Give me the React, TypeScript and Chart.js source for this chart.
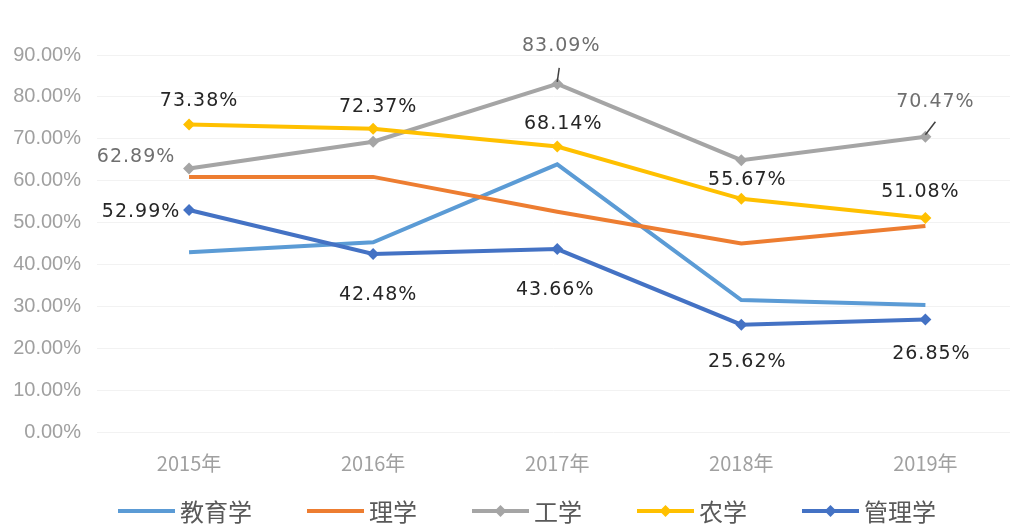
import React, { useEffect, useRef } from "react";
import { Chart, registerables } from "chart.js";

Chart.register(...registerables);

// ---------- data ----------
const categories = ["2015年", "2016年", "2017年", "2018年", "2019年"];
const seriesNames = ["教育学", "理学", "工学", "农学", "管理学"];
const education = [42.9, 45.3, 63.9, 31.5, 30.3];
const science = [60.9, 60.9, 52.6, 45.0, 49.2];
const engineering = [62.89, 69.3, 83.09, 64.9, 70.47];
const agriculture = [73.38, 72.37, 68.14, 55.67, 51.08];
const management = [52.99, 42.48, 43.66, 25.62, 26.85];
const yTickValues = [0, 10, 20, 30, 40, 50, 60, 70, 80, 90];

// which points get a value label (by series)
const labelledPoints: Record<string, number[]> = {
  工学: [0, 2, 4],
  农学: [0, 1, 2, 3, 4],
  管理学: [0, 1, 2, 3, 4],
};

// ---------- styles ----------
const seriesColors = ["#5B9BD5", "#ED7D31", "#A5A5A5", "#FFC000", "#4472C4"];
const seriesMarkers = [false, false, true, true, true];
const labelColors: Record<string, string> = {
  工学: "#6f6f6f",
  农学: "#262626",
  管理学: "#262626",
};
// label centre offsets from the point [dx, dy]
const labelOffsets: Record<string, [number, number][]> = {
  工学: [[-53, -11], [0, 0], [4, -38], [0, 0], [10, -35]],
  农学: [[10, -24], [5, -22], [6, -23], [6, -19], [-5, -26]],
  管理学: [[-48, 2], [5, 41], [-2, 41], [6, 37], [6, 35]],
};
// leader lines [series, index, dx, dy] from point to (dx,dy)
const leaders: [string, number, number, number][] = [
  ["工学", 2, 2, -16],
  ["工学", 4, 10, -15],
];

const W = 1016;
const H = 524;
const PLOT_LEFT = 97;
const PLOT_TOP = 55;
const PLOT_BOTTOM = 432;
const CAT_STEP = 185.3;

const valueLabelPlugin = {
  id: "valueLabels",
  afterDatasetsDraw(chart: any) {
    const ctx = chart.ctx as CanvasRenderingContext2D;
    const xs = chart.scales.x;
    const ys = chart.scales.y;
    ctx.save();
    ctx.strokeStyle = "#404040";
    ctx.lineWidth = 1.5;
    leaders.forEach(([name, i, dx, dy]) => {
      const di = seriesNames.indexOf(name);
      const v = (chart.data.datasets[di].data[i] as any).y;
      const px = xs.getPixelForValue(i);
      const py = ys.getPixelForValue(v);
      ctx.beginPath();
      ctx.moveTo(px, py - 2);
      ctx.lineTo(px + dx, py + dy);
      ctx.stroke();
    });
    ctx.font = '19px "DejaVu Sans"';
    (ctx as any).letterSpacing = "1px";
    ctx.textAlign = "center";
    ctx.textBaseline = "middle";
    Object.keys(labelledPoints).forEach((name) => {
      const di = seriesNames.indexOf(name);
      ctx.fillStyle = labelColors[name];
      labelledPoints[name].forEach((i) => {
        const v = (chart.data.datasets[di].data[i] as any).y;
        const px = xs.getPixelForValue(i);
        const py = ys.getPixelForValue(v);
        const [dx, dy] = labelOffsets[name][i];
        ctx.fillText(v.toFixed(2) + "%", px + dx, py + dy);
      });
    });
    ctx.restore();
  },
};

const legendPlugin = {
  id: "customLegend",
  afterDraw(chart: any) {
    const ctx = chart.ctx as CanvasRenderingContext2D;
    ctx.save();
    ctx.font = '24px "Noto Sans CJK SC"';
    ctx.textBaseline = "middle";
    ctx.textAlign = "left";
    const lineLen = 57;
    const gap = 5;
    const itemGap = 55;
    let x = 118;
    const y = 511;
    seriesNames.forEach((n, i) => {
      ctx.strokeStyle = seriesColors[i];
      ctx.lineWidth = 4;
      ctx.beginPath();
      ctx.moveTo(x, y);
      ctx.lineTo(x + lineLen, y);
      ctx.stroke();
      if (seriesMarkers[i]) {
        ctx.fillStyle = seriesColors[i];
        const cx = x + lineLen / 2;
        ctx.beginPath();
        ctx.moveTo(cx, y - 6);
        ctx.lineTo(cx + 6, y);
        ctx.lineTo(cx, y + 6);
        ctx.lineTo(cx - 6, y);
        ctx.closePath();
        ctx.fill();
      }
      ctx.fillStyle = "#595959";
      ctx.fillText(n, x + lineLen + gap, y + 1);
      x += lineLen + gap + ctx.measureText(n).width + itemGap;
    });
    ctx.restore();
  },
};

export default function App() {
  const ref = useRef<HTMLCanvasElement | null>(null);
  useEffect(() => {
    if (!ref.current) return;
    const allSeries = [education, science, engineering, agriculture, management];
    const xMax = -0.5 + (W - PLOT_LEFT) / CAT_STEP;
    const chart = new Chart(ref.current, {
      type: "line",
      data: {
        datasets: allSeries.map((vals, i) => ({
          label: seriesNames[i],
          data: vals.map((v, k) => ({ x: k, y: v })),
          borderColor: seriesColors[i],
          backgroundColor: seriesColors[i],
          borderWidth: 4,
          pointStyle: "rectRot",
          pointRadius: seriesMarkers[i] ? 6 : 0,
          pointHoverRadius: 0,
          pointBorderWidth: 0,
          tension: 0,
          order: seriesNames.length - 1 - i,
        })),
      },
      options: {
        responsive: false,
        animation: false,
        devicePixelRatio: 1,
        layout: { padding: { top: PLOT_TOP, right: 0, bottom: 0, left: 0 } },
        plugins: {
          legend: { display: false },
          tooltip: { enabled: false },
          title: { display: false },
        },
        scales: {
          x: {
            type: "linear",
            min: -0.5,
            max: xMax,
            afterBuildTicks: (s: any) => {
              s.ticks = categories.map((_, i) => ({ value: i }));
            },
            afterFit: (s: any) => {
              s.height = H - PLOT_BOTTOM;
            },
            grid: { display: false, drawTicks: false },
            border: { display: false },
            ticks: {
              padding: 19,
              color: "#a0a0a0",
              font: { family: '"Noto Sans CJK SC"', size: 20 },
              maxRotation: 0,
              autoSkip: false,
              callback: (v: any) => categories[v as number] ?? "",
            },
          },
          y: {
            min: 0,
            max: 90,
            afterBuildTicks: (s: any) => {
              s.ticks = yTickValues.map((v) => ({ value: v }));
            },
            afterFit: (s: any) => {
              s.width = PLOT_LEFT;
            },
            grid: { color: "#f2f2f2", lineWidth: 1, drawTicks: false },
            border: { display: false },
            ticks: {
              padding: 16,
              color: "#a0a0a0",
              font: { family: '"Liberation Sans"', size: 20 },
              callback: (v: any) => Number(v).toFixed(2) + "%",
            },
          },
        },
      },
      plugins: [valueLabelPlugin, legendPlugin],
    } as any);
    return () => chart.destroy();
  }, []);
  return (
    <div style={{ position: "fixed", left: 0, top: 0, width: W, height: H, background: "#fff" }}>
      <canvas ref={ref} width={W} height={H} style={{ width: W, height: H, display: "block" }} />
    </div>
  );
}
